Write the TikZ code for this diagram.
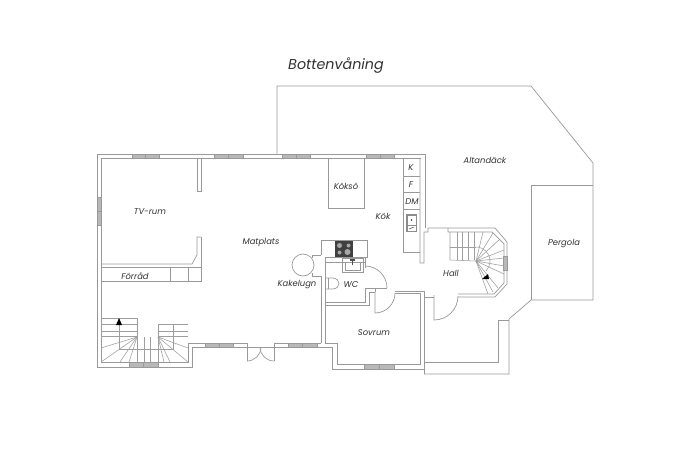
\documentclass[tikz,border=0pt]{standalone}
\usepackage{fontspec}
\setmainfont{Poppins}
\definecolor{wall}{gray}{0.6}
\definecolor{stair}{gray}{0.62}
\definecolor{win}{gray}{0.72}
\definecolor{txt}{gray}{0.2}
\tikzset{
 wl/.style={draw=wall,line width=0.7pt},
 thin line/.style={draw=stair,line width=0.55pt},
 window/.style={draw=wall,fill=win,line width=0.5pt},
 lab/.style={font=\fontsize{8.4}{10}\selectfont\itshape,text=txt,inner sep=0pt},
}
\begin{document}
\begin{tikzpicture}[x=1pt,y=-1pt]
\useasboundingbox (0,0) rectangle (690,460);
\fill[white] (0,0) rectangle (690,460);
% terrace outline
\draw[wl] (277,154) -- (277,86) -- (531,86) -- (593,163) -- (593,300) -- (531,300) -- (509,319) -- (509,374) -- (424,374);
\draw[wl] (531,300) -- (531,185) -- (593,185);
\draw[wl] (424,362) -- (498,362) -- (498,320) -- (509,320);
% outer walls
\draw[wl] (425,228) -- (425,154) -- (97,154) -- (97,367) -- (192,367) -- (192,347) -- (247,347);
\draw[wl] (274,347) -- (332,347) -- (332,369) -- (424,369);
\draw[wl] (424,297) -- (424,374);
\draw[wl] (420,293) -- (420,364) -- (337,364) -- (337,343) -- (325,343);
\draw[wl] (321,343) -- (274,343) -- (274,361);
\draw[wl] (247,361) -- (247,343) -- (188,343) -- (188,362) -- (101,362) -- (101,158) -- (421,158);
\draw[wl] (247,347) -- (274,347);
\draw[wl] (247,361) arc[start angle=90,end angle=0,radius=14];
\draw[wl] (274,361) arc[start angle=90,end angle=180,radius=14];
% right kitchen wall and hall
\draw[wl] (420,158) -- (420,263) -- (424,263) -- (424,232) -- (428,232) -- (428,228) -- (495,228) -- (507,242) -- (507,284) -- (495,297) -- (458,297);
\draw[wl] (448,228) -- (448,232) -- (492,232) -- (504,244) -- (504,283) -- (494,294) -- (458,294);
\draw[wl] (395,291) -- (424,291) -- (424,297) -- (434,297);
\draw[wl] (395,293) -- (420,293);
\draw[wl] (434,295) -- (434,320) arc[start angle=90,end angle=0,radius=24];
% TV room walls
\draw[wl] (197,158) -- (197,191) -- (201,191) -- (201,158);
\draw[wl] (201,237) -- (197,237) -- (197,255) -- (192,264) -- (101,264);
\draw[wl] (201,237) -- (201,281) -- (101,281);
\draw[wl] (101,267) -- (201,267);
\draw[wl] (170,267) -- (170,281) (188,267) -- (188,281);
% interior wall block
\draw[wl] (321,255) -- (321,240) -- (367,240) -- (367,257) -- (325,257) -- (325,343);
\draw[wl] (321,276) -- (321,343);
\draw[wl] (321,255) -- (312,255) -- (312,258);
\draw[wl] (321,276) -- (312,276) -- (312,273);
\draw[wl] (325,262) -- (365,262) -- (365,268);
\draw[wl] (365,257) -- (365,262);
\draw[wl] (325,302) -- (365,302) -- (365,288) -- (387,288);
\draw[wl] (325,305) -- (369,305) -- (369,292) -- (375,292);
\draw[wl] (365,266) arc[start angle=-90,end angle=0,radius=22];
\draw[wl] (375,292) -- (375,313) arc[start angle=90,end angle=0,radius=20];
\draw[wl] (375,288) -- (375,292);
% stove
\fill[black!75] (335,241) rectangle (353,257);
\foreach \a/\b/\r in {339.5/245.5/2.5,348.5/245.5/2,339.5/252.5/2,347.5/252/3}
 \fill[black!35] (\a,\b) circle[radius=\r];
% kakelugn
\draw[wl] (303,265) circle[radius=11];
% basin
\draw[wl] (342,258) rectangle (363,272);
\draw[wl] (345,262) rectangle (360,270);
\fill[black!70] (350,259) rectangle (355,261);
\fill[black!70] (352,261) rectangle (353,265);
% toilet
\draw[wl] (325,278) -- (333,278) .. controls (341,279) and (341,288) .. (333,289) -- (325,289);
\draw[wl] (328,278) -- (328,289);
% kitchen
\draw[wl] (403,158) -- (403,252) -- (420,252);
\draw[wl] (403,176) -- (420,176) (403,192) -- (420,192) (403,209) -- (420,209);
\draw[wl] (328,158) -- (328,208) -- (364,208) -- (364,158);
\fill[black!45] (406,214) rectangle (417,232);
\fill[white] (407.5,215.5) rectangle (415.5,225);
\fill[white] (407.5,226) rectangle (415.5,230.5);
\fill[black!80] (411.5,220) circle[radius=0.8];
\draw[black!70,line width=0.5pt] (409,229) -- (414,227);
% windows
\foreach \x/\w in {132/27,214/29,282/28,366/28} {
 \draw[window] (\x,154) rectangle ++(\w,4);
 \draw[wall,line width=0.4pt] (\x+\w/2,154) -- ++(0,4);
}
\foreach \x/\w in {205/28,288/29} {
 \draw[window] (\x,343) rectangle ++(\w,4);
 \draw[wall,line width=0.4pt] (\x+\w/2,343) -- ++(0,4);
}
\draw[window] (129,362) rectangle (158,367);
\draw[wall,line width=0.4pt] (143.5,362) -- (143.5,367);
\draw[window] (364,364) rectangle (394,369);
\draw[wall,line width=0.4pt] (379,364) -- (379,369);
\draw[window] (97,197) rectangle (101,225);
\draw[wall,line width=0.4pt] (97,211) -- (101,211);
\draw[window] (503.5,256) rectangle (507,270);
% lower left stairs
\draw[thin line] (101,318) -- (137,318) -- (137,337);
\draw[thin line] (101,324) -- (137,324) (101,331) -- (137,331) (101,336.5) -- (137,336.5);
\draw[thin line] (188,324) -- (158,324) -- (158,337);
\draw[thin line] (158,331) -- (188,331) (158,336.5) -- (188,336.5);
\draw[thin line] (119,322) -- (119,349) -- (173,349) -- (173,324);
\draw[thin line] (137,337) -- (137,362) (144,337) -- (144,362) (150,337) -- (150,362) (158,337) -- (158,362);
\foreach \p in {(101,348),(101,362),(120,362),(129,362)} \draw[thin line] (137,337) -- \p;
\foreach \p in {(188,348),(188,362),(170,362),(164,362)} \draw[thin line] (158,337) -- \p;
\fill[black] (119,318) -- (116,325) -- (122,325) -- cycle;
% hall stairs
\draw[thin line] (450,232) -- (450,260) -- (476,261);
\draw[thin line] (450,247) -- (476,247);
\foreach \x in {457,462,468,474} \draw[thin line] (\x,232) -- (\x,260);
\foreach \p in {(483,232),(493,233),(500,239),(504,250),(504,258),(504,266),(504,274),(498,288),(493,292),(488,294)} \draw[thin line] (476,261) -- \p;
\draw[thin line] (476,247) arc[start angle=-90,end angle=45,radius=14];
\fill[black] (482,279) -- (489,279) -- (488,274) -- cycle;
% labels
\node[font=\fontsize{14.3}{17}\selectfont\itshape,text=txt,inner sep=0pt] (title) at (336,66) {Bottenvåning};
\node[lab] (tv) at (150,212) {TV-rum};
\node[lab] (forrad) at (135,276) {Förråd};
\node[lab] (mat) at (261,242) {Matplats};
\node[lab] (koks) at (346,186) {Köksö};
\node[lab] (kok) at (383,216) {Kök};
\node[lab] (k) at (411,168) {K};
\node[lab] (f) at (411,185) {F};
\node[lab] (dm) at (412,202) {DM};
\node[lab] (altan) at (485,160) {Altandäck};
\node[lab] (perg) at (564,244) {Pergola};
\node[lab] (hall) at (451,273) {Hall};
\node[lab] (kak) at (297,285) {Kakelugn};
\node[lab] (wc) at (351,285) {WC};
\node[lab] (sov) at (374,333) {Sovrum};
\end{tikzpicture}
\end{document}
